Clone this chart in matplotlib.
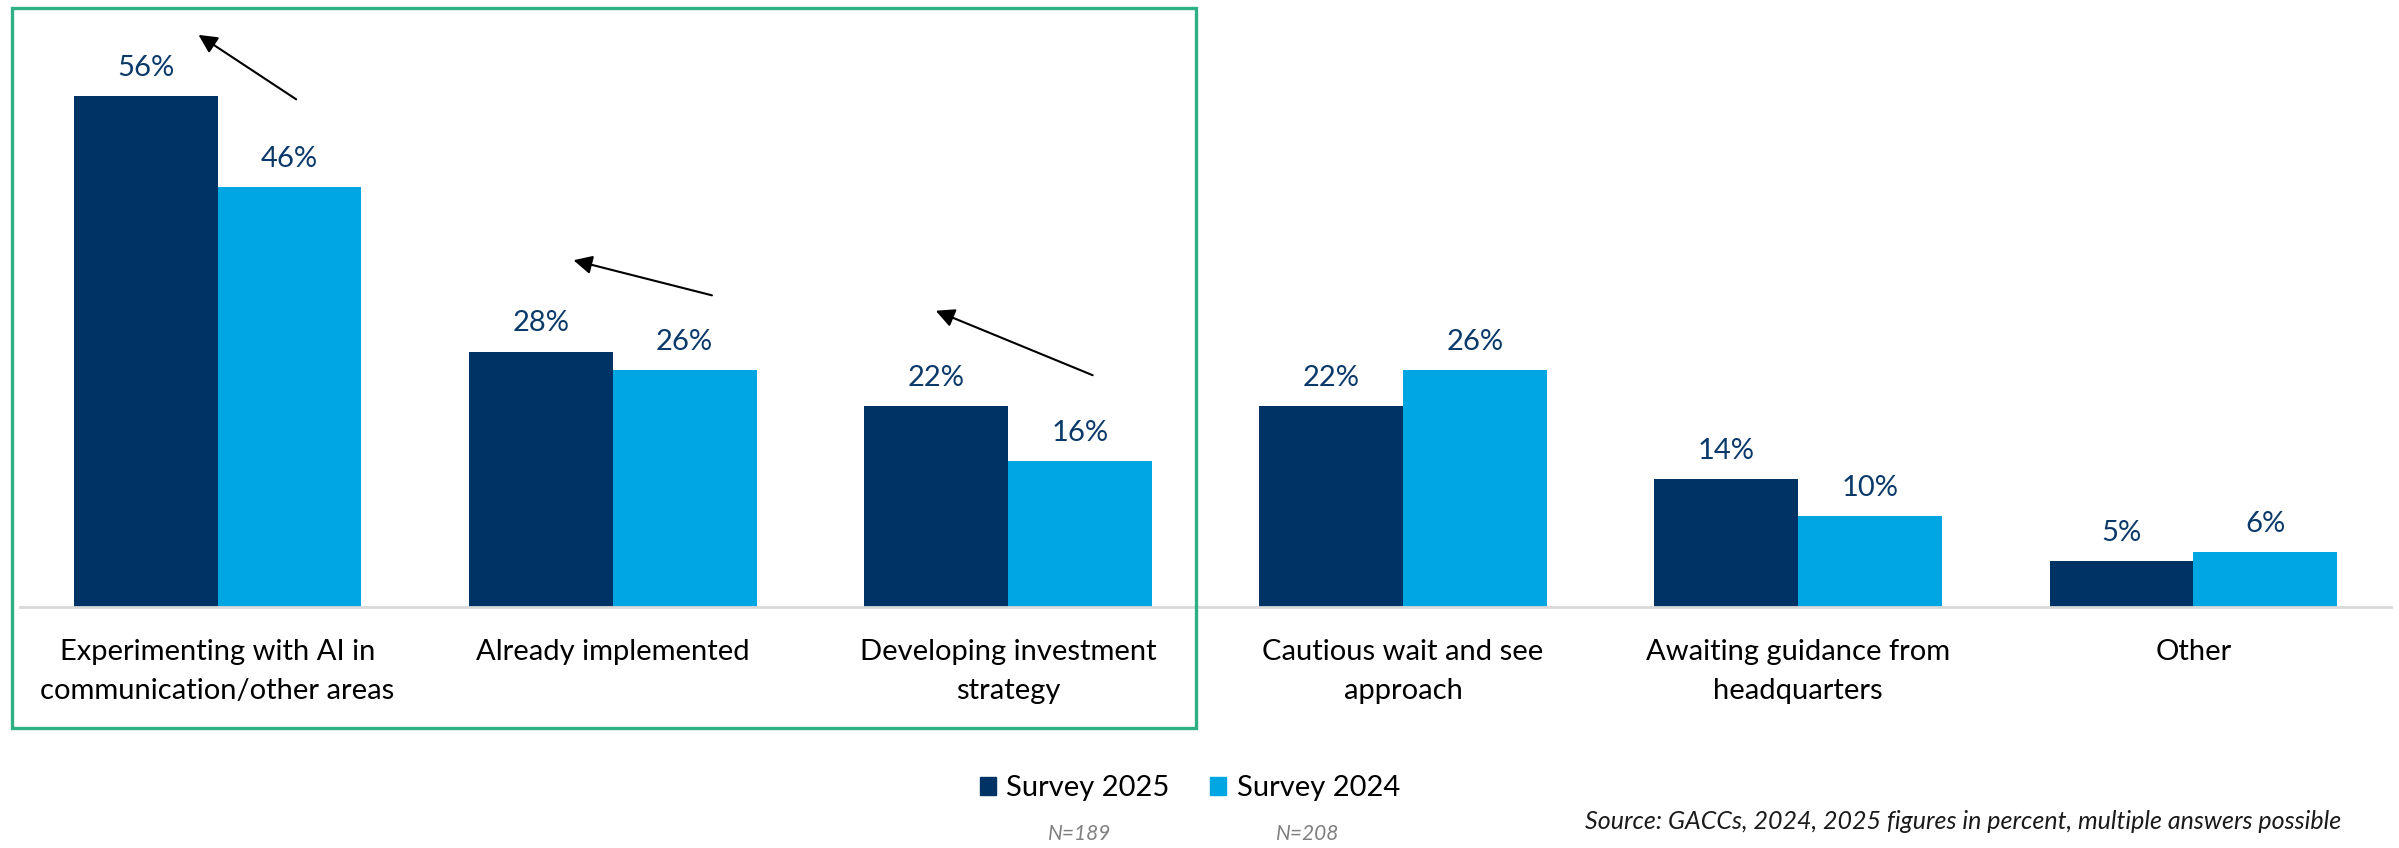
import numpy as np
import matplotlib.pyplot as plt
from matplotlib.patches import Rectangle, Patch

plt.rcParams['font.family'] = ['Lato', 'DejaVu Sans']

categories = ["Experimenting with AI in\ncommunication/other areas",
              "Already implemented",
              "Developing investment\nstrategy",
              "Cautious wait and see\napproach",
              "Awaiting guidance from\nheadquarters",
              "Other"]
survey_2025 = [56, 28, 22, 22, 14, 5]
survey_2024 = [46, 26, 16, 26, 10, 6]
series_names = ["Survey 2025", "Survey 2024"]
sample_sizes = ["N=189", "N=208"]
source_note = "Source: GACCs, 2024, 2025 figures in percent, multiple answers possible"

# arrows in data coords: (tail x, tail y, head x, head y)
arrows = [(0.205, 55.5, -0.054, 62.9),
          (1.258, 34.1, 0.894, 38.1),
          (2.221, 25.3, 1.811, 32.6)]

dark = '#003365'
light = '#00A6E1'
label_col = '#0B3A6A'

fig = plt.figure(figsize=(23.99, 8.48), dpi=100)
ax = fig.add_axes([0.0083, 0.2842, 0.9884, 0.7098])

x = np.arange(len(categories))
w = 0.364
b1 = ax.bar(x - w/2, survey_2025, w, color=dark)
b2 = ax.bar(x + w/2, survey_2024, w, color=light)

for bars, vals in [(b1, survey_2025), (b2, survey_2024)]:
    for r, v in zip(bars, vals):
        ax.annotate(f"{v}%", (r.get_x() + r.get_width()/2, v),
                    xytext=(0, 11), textcoords='offset points',
                    ha='center', va='bottom', fontsize=21, color=label_col)

for tx, ty, hx, hy in arrows:
    ax.annotate("", xy=(hx, hy), xytext=(tx, ty),
                arrowprops=dict(arrowstyle='-|>', color='black', lw=1.5,
                                mutation_scale=28))

ax.set_xlim(-0.5, len(categories) - 0.5)
ax.set_ylim(0, 66)
ax.set_xticks(x)
ax.set_xticklabels(categories, fontsize=21, linespacing=1.6)
ax.tick_params(axis='x', length=0, pad=23)
ax.set_yticks([])
for s in ['top', 'right', 'left']:
    ax.spines[s].set_visible(False)
ax.spines['bottom'].set_color('#D9D9D9')
ax.spines['bottom'].set_linewidth(2)

handles = [Patch(color=dark), Patch(color=light)]
fig.legend(handles, series_names, loc='center', bbox_to_anchor=(0.496, 0.0704),
           ncol=2, frameon=False, fontsize=21, handlelength=0.55, handleheight=0.55,
           handletextpad=0.35, columnspacing=1.4)

fig.text(0.450, 0.010, sample_sizes[0], fontsize=15, style='italic', color='#7F7F7F', ha='center')
fig.text(0.545, 0.010, sample_sizes[1], fontsize=15, style='italic', color='#7F7F7F', ha='center')
fig.text(0.976, 0.022, source_note, fontsize=18, style='italic', color='#1A1A1A', ha='right')

fig.patches.append(Rectangle((12/2399, 1 - 728/848), 1184/2399, 720/848,
                             transform=fig.transFigure, fill=False,
                             edgecolor='#2EAF85', lw=2.4))

plt.savefig('out.png', dpi=100)
